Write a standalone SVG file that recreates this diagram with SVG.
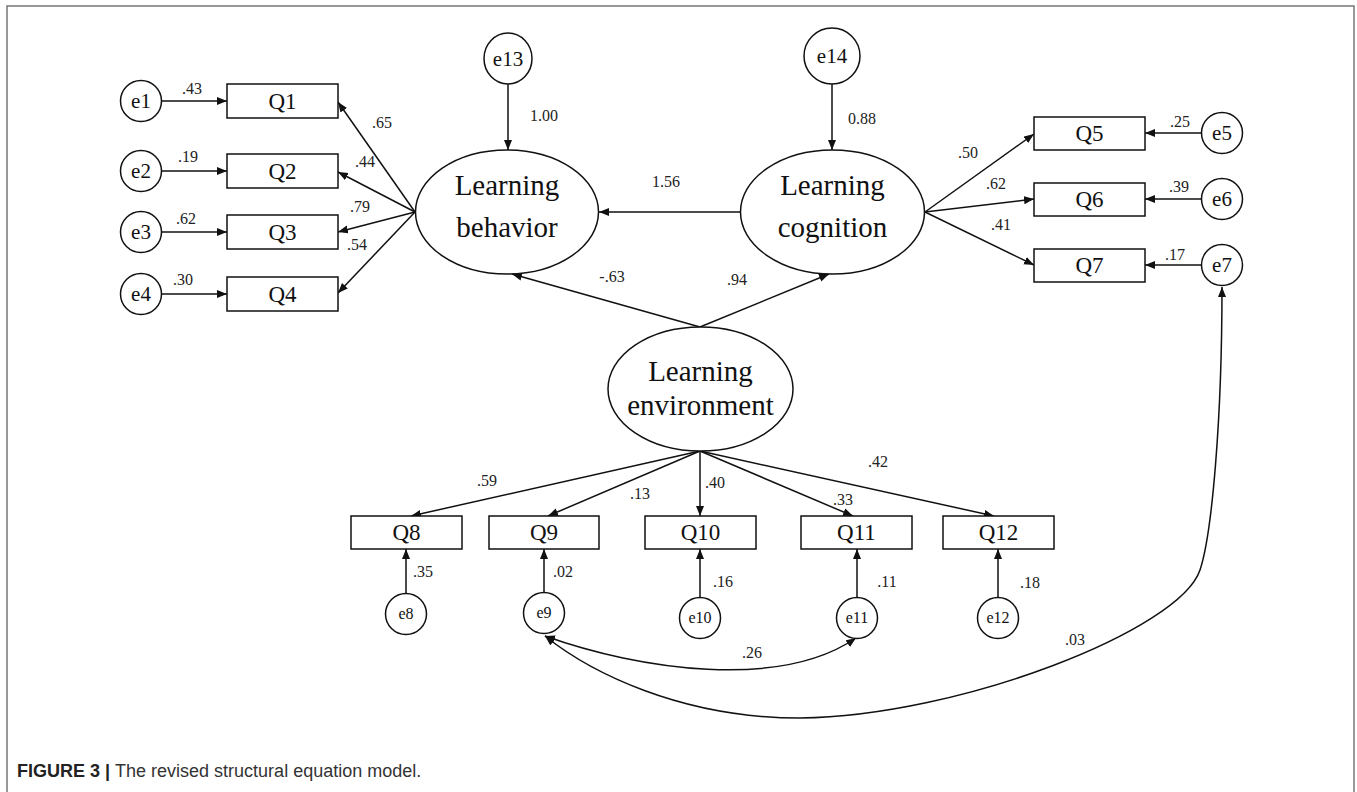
<svg xmlns="http://www.w3.org/2000/svg" width="1357" height="792" viewBox="0 0 1357 792">
<defs>
<marker id="ah" markerUnits="userSpaceOnUse" markerWidth="12" markerHeight="10" refX="10" refY="4" orient="auto">
<path d="M0,0 L10,4 L0,8 Z" fill="#111"/>
</marker>
<marker id="ahs" markerUnits="userSpaceOnUse" markerWidth="12" markerHeight="10" refX="10" refY="4" orient="auto-start-reverse">
<path d="M0,0 L10,4 L0,8 Z" fill="#111"/>
</marker>
</defs>
<style>
.n{fill:#fff;stroke:#111;stroke-width:1.5}
.t{font-family:"Liberation Serif","Times New Roman",serif;fill:#111;text-anchor:middle}
.lat{font-size:29px}
.q{font-size:23px}
.e{font-size:21px}
.es{font-size:16px}
.lb{font-family:"Liberation Serif","Times New Roman",serif;font-size:16px;fill:#222;text-anchor:middle}
.c{fill:none;stroke:#111;stroke-width:1.5;marker-end:url(#ah)}
.cc{fill:none;stroke:#111;stroke-width:1.5;marker-end:url(#ahs);marker-start:url(#ahs)}
.cap{font-family:"Liberation Sans",Arial,sans-serif;font-size:18px;fill:#333}
</style>
<rect x="7" y="6" width="1347" height="820" fill="#fff" stroke="#777" stroke-width="1.5"/>

<g id="connectors">
<line class="c" x1="161" y1="101" x2="227" y2="101"/>
<line class="c" x1="161" y1="171" x2="227" y2="171"/>
<line class="c" x1="161" y1="232" x2="227" y2="232"/>
<line class="c" x1="161" y1="294" x2="227" y2="294"/>
<line class="c" x1="415" y1="212" x2="338" y2="102"/>
<line class="c" x1="415" y1="212" x2="338" y2="172"/>
<line class="c" x1="415" y1="212" x2="338" y2="232"/>
<line class="c" x1="415" y1="212" x2="338" y2="293"/>
<line class="c" x1="508" y1="84" x2="508" y2="150"/>
<line class="c" x1="832" y1="84" x2="832" y2="150"/>
<line class="c" x1="740" y1="212" x2="599" y2="212"/>
<line class="c" x1="700" y1="327" x2="512" y2="274"/>
<line class="c" x1="700" y1="327" x2="829" y2="274"/>
<line class="c" x1="925" y1="212" x2="1034" y2="134"/>
<line class="c" x1="925" y1="212" x2="1034" y2="199"/>
<line class="c" x1="925" y1="212" x2="1034" y2="265"/>
<line class="c" x1="1201" y1="133" x2="1145" y2="133"/>
<line class="c" x1="1201" y1="199" x2="1145" y2="199"/>
<line class="c" x1="1201" y1="265" x2="1145" y2="265"/>
<line class="c" x1="700" y1="451" x2="411" y2="516"/>
<line class="c" x1="700" y1="451" x2="548" y2="516"/>
<line class="c" x1="700" y1="451" x2="700" y2="516"/>
<line class="c" x1="700" y1="451" x2="853" y2="516"/>
<line class="c" x1="700" y1="451" x2="994" y2="516"/>
<line class="c" x1="406" y1="594" x2="406" y2="549"/>
<line class="c" x1="544" y1="593" x2="544" y2="549"/>
<line class="c" x1="700" y1="597" x2="700" y2="549"/>
<line class="c" x1="857" y1="597" x2="857" y2="549"/>
<line class="c" x1="998" y1="597" x2="998" y2="549"/>
<path class="cc" d="M545,636 C640,670 780,690 856,638"/>
<path class="cc" d="M545,636 C590,672 680,718 800,718 C960,716 1180,630 1200,570 C1212,534 1222,420 1222,287"/>
</g>

<g id="e1"><circle class="n" cx="141" cy="101" r="20.5"/><text class="t e" x="141" y="108">e1</text></g>
<g id="e2"><circle class="n" cx="141" cy="171" r="20.5"/><text class="t e" x="141" y="178">e2</text></g>
<g id="e3"><circle class="n" cx="141" cy="232" r="20.5"/><text class="t e" x="141" y="239">e3</text></g>
<g id="e4"><circle class="n" cx="141" cy="294" r="20.5"/><text class="t e" x="141" y="301">e4</text></g>

<g id="Q1"><rect class="n" x="227" y="84" width="111" height="34"/><text class="t q" x="282.5" y="109">Q1</text></g>
<g id="Q2"><rect class="n" x="227" y="154" width="111" height="34"/><text class="t q" x="282.5" y="179">Q2</text></g>
<g id="Q3"><rect class="n" x="227" y="215" width="111" height="34"/><text class="t q" x="282.5" y="240">Q3</text></g>
<g id="Q4"><rect class="n" x="227" y="277" width="111" height="34"/><text class="t q" x="282.5" y="302">Q4</text></g>

<g id="e13"><ellipse class="n" cx="508" cy="58.5" rx="24" ry="25.5"/><text class="t e" x="508" y="66">e13</text></g>
<g id="e14"><ellipse class="n" cx="832" cy="56" rx="28" ry="28"/><text class="t e" x="832" y="63">e14</text></g>

<g id="behavior"><ellipse class="n" cx="507" cy="212" rx="91.5" ry="62"/><text class="t lat" x="507" y="195">Learning</text><text class="t lat" x="507" y="237">behavior</text></g>
<g id="cognition"><ellipse class="n" cx="832.5" cy="212" rx="92" ry="62"/><text class="t lat" x="832.5" y="195">Learning</text><text class="t lat" x="832.5" y="237">cognition</text></g>
<g id="environment"><ellipse class="n" cx="700.5" cy="389" rx="92.5" ry="62"/><text class="t lat" x="700.5" y="381">Learning</text><text class="t lat" x="700.5" y="415">environment</text></g>

<g id="Q5"><rect class="n" x="1034" y="117" width="111" height="33"/><text class="t q" x="1089.5" y="141">Q5</text></g>
<g id="Q6"><rect class="n" x="1034" y="183" width="111" height="33"/><text class="t q" x="1089.5" y="207">Q6</text></g>
<g id="Q7"><rect class="n" x="1034" y="249" width="111" height="33"/><text class="t q" x="1089.5" y="273">Q7</text></g>
<g id="e5"><circle class="n" cx="1222" cy="133" r="20.5"/><text class="t e" x="1222" y="140">e5</text></g>
<g id="e6"><circle class="n" cx="1222" cy="199" r="20.5"/><text class="t e" x="1222" y="206">e6</text></g>
<g id="e7"><circle class="n" cx="1222" cy="265" r="20.5"/><text class="t e" x="1222" y="272">e7</text></g>

<g id="Q8"><rect class="n" x="351" y="516" width="111" height="33"/><text class="t q" x="406.5" y="540">Q8</text></g>
<g id="Q9"><rect class="n" x="489" y="516" width="110" height="33"/><text class="t q" x="544" y="540">Q9</text></g>
<g id="Q10"><rect class="n" x="645" y="516" width="111" height="33"/><text class="t q" x="700.5" y="540">Q10</text></g>
<g id="Q11"><rect class="n" x="801" y="516" width="111" height="33"/><text class="t q" x="856.5" y="540">Q11</text></g>
<g id="Q12"><rect class="n" x="943" y="516" width="111" height="33"/><text class="t q" x="998.5" y="540">Q12</text></g>

<g id="e8"><circle class="n" cx="406" cy="614" r="20.5"/><text class="t es" x="406" y="619">e8</text></g>
<g id="e9"><circle class="n" cx="544" cy="613" r="20.5"/><text class="t es" x="544" y="618">e9</text></g>
<g id="e10"><circle class="n" cx="700" cy="618" r="20.5"/><text class="t es" x="700" y="623">e10</text></g>
<g id="e11"><circle class="n" cx="857" cy="618" r="20.5"/><text class="t es" x="857" y="623">e11</text></g>
<g id="e12"><circle class="n" cx="998" cy="618" r="20.5"/><text class="t es" x="998" y="623">e12</text></g>

<g id="labels">
<text class="lb" x="192" y="94">.43</text>
<text class="lb" x="188" y="162">.19</text>
<text class="lb" x="186" y="224">.62</text>
<text class="lb" x="183" y="285">.30</text>
<text class="lb" x="382" y="128">.65</text>
<text class="lb" x="365" y="167">.44</text>
<text class="lb" x="360" y="212">.79</text>
<text class="lb" x="357" y="250">.54</text>
<text class="lb" x="544" y="121">1.00</text>
<text class="lb" x="862" y="124">0.88</text>
<text class="lb" x="666" y="187">1.56</text>
<text class="lb" x="612" y="282">-.63</text>
<text class="lb" x="737" y="285">.94</text>
<text class="lb" x="968" y="158">.50</text>
<text class="lb" x="996" y="189">.62</text>
<text class="lb" x="1001" y="230">.41</text>
<text class="lb" x="1180" y="127">.25</text>
<text class="lb" x="1179" y="192">.39</text>
<text class="lb" x="1175" y="260">.17</text>
<text class="lb" x="487" y="486">.59</text>
<text class="lb" x="640" y="499">.13</text>
<text class="lb" x="715" y="488">.40</text>
<text class="lb" x="843" y="505">.33</text>
<text class="lb" x="878" y="467">.42</text>
<text class="lb" x="423" y="577">.35</text>
<text class="lb" x="563" y="577">.02</text>
<text class="lb" x="723" y="587">.16</text>
<text class="lb" x="887" y="587">.11</text>
<text class="lb" x="1030" y="588">.18</text>
<text class="lb" x="752" y="658">.26</text>
<text class="lb" x="1075" y="645">.03</text>
</g>

<g id="caption">
<text class="cap" x="17" y="777"><tspan font-weight="bold" fill="#222">FIGURE 3 | </tspan>The revised structural equation model.</text>
</g>
</svg>
